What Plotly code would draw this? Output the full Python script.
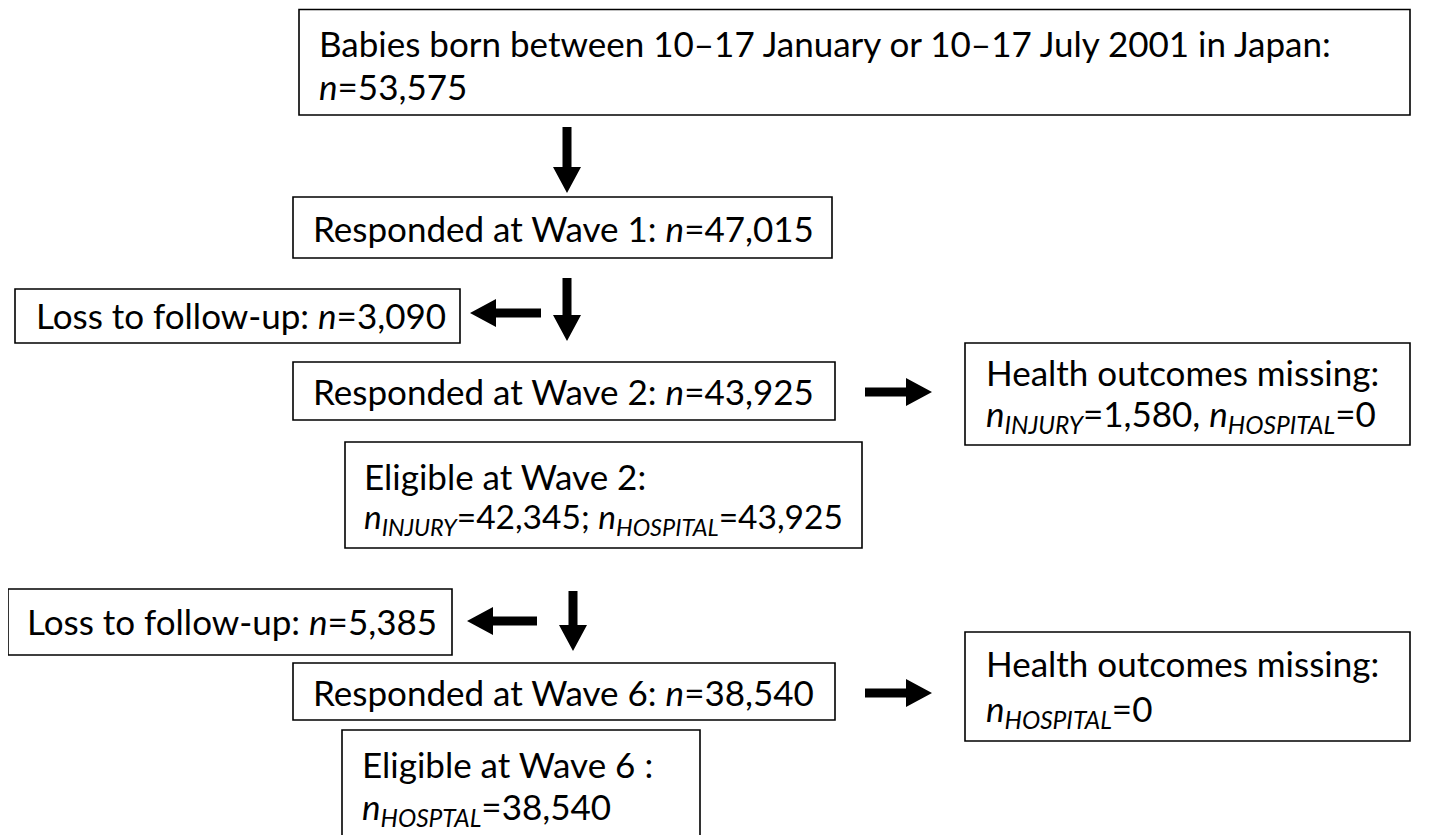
import plotly.graph_objects as go

# ---- data (counts in the cohort flow) ----
n_born = 53575
n_wave1 = 47015
n_loss1 = 3090
n_wave2 = 43925
n_missing2_injury = 1580
n_missing2_hospital = 0
n_elig2_injury = 42345
n_elig2_hospital = 43925
n_loss2 = 5385
n_wave6 = 38540
n_missing6_hospital = 0
n_elig6_hospital = 38540

def f(v):
    return f"{v:,}"

N = "<i>n</i>"
def ns(sub):
    return f"<i>n<sub>{sub}</sub></i>"

# ---- layout: box geometry (x0, y0, x1, y1) in pixel space, text lines (y centre, text, size) ----
FS = 35
boxes = [
    dict(rect=(299, 9.5, 1410, 115), pad=18,
         lines=[(43, "Babies born between 10–17 January or 10–17 July 2001 in Japan:", FS),
                (86, f"{N}={f(n_born)}", FS)]),
    dict(rect=(293, 197, 832, 258), pad=18,
         lines=[(228, f"Responded at Wave 1: {N}={f(n_wave1)}", FS)]),
    dict(rect=(15, 289, 460, 343), pad=19,
         lines=[(315, f"Loss to follow-up: {N}={f(n_loss1)}", FS)]),
    dict(rect=(293, 362, 835, 420), pad=18,
         lines=[(391, f"Responded at Wave 2: {N}={f(n_wave2)}", FS)]),
    dict(rect=(965, 343, 1410, 445), pad=19,
         lines=[(372, "Health outcomes missing:", FS),
                (415, f"{ns('INJURY')}={f(n_missing2_injury)}, {ns('HOSPITAL')}={f(n_missing2_hospital)}", FS)]),
    dict(rect=(345, 442, 862, 548), pad=17,
         lines=[(476, "Eligible at Wave 2:", FS),
                (518, f"{ns('INJURY')}={f(n_elig2_injury)}; {ns('HOSPITAL')}={f(n_elig2_hospital)}", 33.5)]),
    dict(rect=(8, 589, 452, 655), pad=17,
         lines=[(621, f"Loss to follow-up: {N}={f(n_loss2)}", FS)]),
    dict(rect=(293, 663, 835, 720), pad=18,
         lines=[(692, f"Responded at Wave 6: {N}={f(n_wave6)}", FS)]),
    dict(rect=(965, 632, 1410, 741), pad=19,
         lines=[(663, "Health outcomes missing:", FS),
                (710, f"{ns('HOSPITAL')}={f(n_missing6_hospital)}", FS)]),
    dict(rect=(342, 730, 700, 845), pad=18,
         lines=[(764, "Eligible at Wave 6 :", FS),
                (808, f"{ns('HOSPTAL')}={f(n_elig6_hospital)}", FS)]),
]

# arrows: (x_tail, y_tail, x_tip, y_tip)
arrows = [
    (567, 127, 567, 193),
    (567, 278, 567, 341),
    (541, 313, 470, 313),
    (865, 392, 932, 392),
    (573, 591, 573, 651),
    (537, 621, 467, 621),
    (865, 693, 932, 693),
]

FONT = "Lato"
OFF = 8  # page body margin offset

fig = go.Figure()
shapes = []
annotations = []

for b in boxes:
    x0, y0, x1, y1 = b["rect"]
    shapes.append(dict(type="rect", xref="x", yref="y", x0=x0, y0=y0, x1=x1, y1=y1,
                       line=dict(color="black", width=1.6), fillcolor="white", layer="below"))
    for yc, txt, size in b["lines"]:
        annotations.append(dict(x=x0 + b["pad"], y=yc, xref="x", yref="y", text=txt,
                                showarrow=False, xanchor="left", yanchor="middle", align="left",
                                font=dict(family=FONT, size=size, color="black")))

def arrow_path(xt, yt, xp, yp, shaft=9, head_w=28, head_l=26):
    import math
    dx, dy = xp - xt, yp - yt
    L = math.hypot(dx, dy)
    ux, uy = dx / L, dy / L
    px, py = -uy, ux
    bx, by = xp - ux * head_l, yp - uy * head_l
    pts = [
        (xt + px * shaft / 2, yt + py * shaft / 2),
        (bx + px * shaft / 2, by + py * shaft / 2),
        (bx + px * head_w / 2, by + py * head_w / 2),
        (xp, yp),
        (bx - px * head_w / 2, by - py * head_w / 2),
        (bx - px * shaft / 2, by - py * shaft / 2),
        (xt - px * shaft / 2, yt - py * shaft / 2),
    ]
    return "M " + " L ".join(f"{x:.1f},{y:.1f}" for x, y in pts) + " Z"

for a in arrows:
    shapes.append(dict(type="path", xref="x", yref="y", path=arrow_path(*a),
                       fillcolor="black", line=dict(color="black", width=0)))

fig.update_layout(
    width=1440, height=835,
    margin=dict(l=0, r=0, t=0, b=0),
    paper_bgcolor="white", plot_bgcolor="white",
    xaxis=dict(range=[OFF, 1440 + OFF], visible=False, fixedrange=True),
    yaxis=dict(range=[835 + OFF, OFF], visible=False, fixedrange=True),
    shapes=shapes, annotations=annotations, showlegend=False,
)

fig.write_html("out.html")
